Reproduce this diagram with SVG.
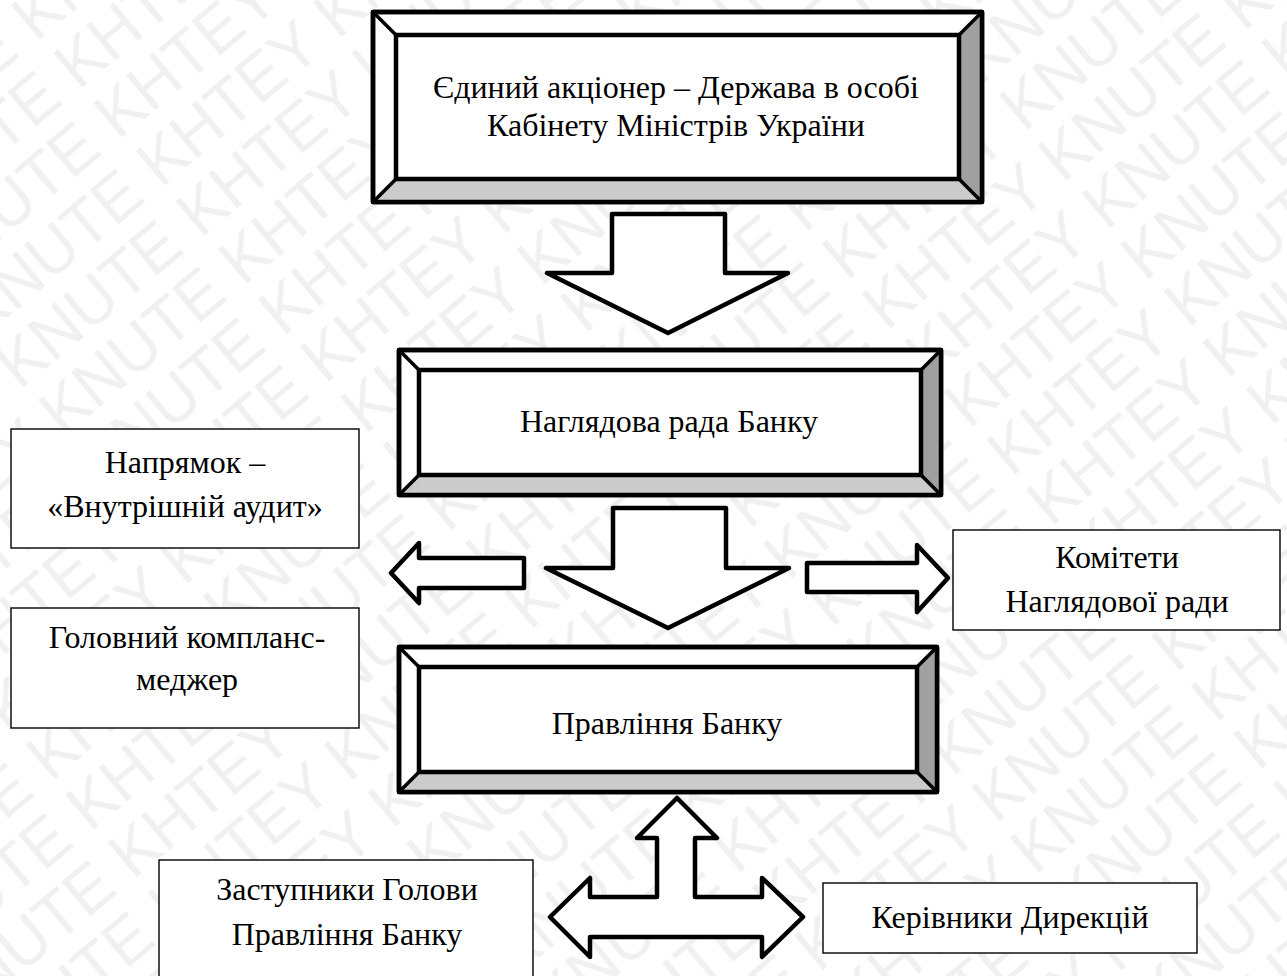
<svg xmlns="http://www.w3.org/2000/svg" width="1287" height="976" viewBox="0 0 1287 976">
<defs>
<style>
.t{font-family:"Liberation Serif","Times New Roman",serif;font-size:32px;fill:#000;text-anchor:middle}
.box{fill:#fff;stroke:#000;stroke-width:1.4}
.bo{fill:#fff;stroke:#000;stroke-width:4.5;stroke-linejoin:round}
.bf{fill:none;stroke:#000;stroke-width:4.5;stroke-linejoin:round}
.bi{fill:#fff;stroke:#000;stroke-width:4.5;stroke-linejoin:round}
.br{fill:#a0a0a0;stroke:none}
.bb{fill:#cbcbcb;stroke:none}
.dg{stroke:#000;stroke-width:3.5;fill:none}
.ar{fill:#fff;stroke:#000;stroke-width:4.5;stroke-linejoin:round}
.wm{font-family:"Liberation Sans",Arial,sans-serif;font-size:64px;fill:#f0f0f0}
</style>
<pattern id="wmp" patternUnits="userSpaceOnUse" width="466" height="128" patternTransform="rotate(-40)">
<text class="wm" x="0" y="56">KHTEY KNUTE </text>
<text class="wm" x="466" y="56">KHTEY KNUTE </text>
<text class="wm" x="-233" y="120">KNUTE KHTEY </text>
<text class="wm" x="233" y="120">KNUTE KHTEY </text>
</pattern>
</defs>
<rect width="1287" height="976" fill="#fff"/>
<rect width="1287" height="976" fill="url(#wmp)"/>

<g id="node-shareholder">
<rect class="bo" x="373" y="12" width="609" height="190"/>
<polygon class="bb" points="373,202 982,202 959,179 396,179"/>
<polygon class="br" points="982,12 982,202 959,179 959,35"/>
<rect class="bf" x="373" y="12" width="609" height="190"/>
<line class="dg" x1="373" y1="12" x2="396" y2="35"/>
<line class="dg" x1="982" y1="12" x2="959" y2="35"/>
<line class="dg" x1="373" y1="202" x2="396" y2="179"/>
<line class="dg" x1="982" y1="202" x2="959" y2="179"/>
<rect class="bi" x="396" y="35" width="563" height="144"/>
<text class="t" x="676" y="98">Єдиний акціонер – Держава в особі</text>
<text class="t" x="676" y="136">Кабінету Міністрів України</text>
</g>

<g id="node-supervisory">
<rect class="bo" x="399" y="350" width="542" height="145"/>
<polygon class="bb" points="399,495 941,495 921,475 419,475"/>
<polygon class="br" points="941,350 941,495 921,475 921,370"/>
<rect class="bf" x="399" y="350" width="542" height="145"/>
<line class="dg" x1="399" y1="350" x2="419" y2="370"/>
<line class="dg" x1="941" y1="350" x2="921" y2="370"/>
<line class="dg" x1="399" y1="495" x2="419" y2="475"/>
<line class="dg" x1="941" y1="495" x2="921" y2="475"/>
<rect class="bi" x="419" y="370" width="502" height="105"/>
<text class="t" x="669" y="432">Наглядова рада Банку</text>
</g>

<g id="node-board">
<rect class="bo" x="399" y="647" width="538" height="145"/>
<polygon class="bb" points="399,792 937,792 917,772 419,772"/>
<polygon class="br" points="937,647 937,792 917,772 917,667"/>
<rect class="bf" x="399" y="647" width="538" height="145"/>
<line class="dg" x1="399" y1="647" x2="419" y2="667"/>
<line class="dg" x1="937" y1="647" x2="917" y2="667"/>
<line class="dg" x1="399" y1="792" x2="419" y2="772"/>
<line class="dg" x1="937" y1="792" x2="917" y2="772"/>
<rect class="bi" x="419" y="667" width="498" height="105"/>
<text class="t" x="667" y="734">Правління Банку</text>
</g>

<g id="node-audit">
<rect class="box" x="11" y="429" width="348" height="119"/>
<text class="t" x="185" y="473">Напрямок –</text>
<text class="t" x="185" y="517">«Внутрішній аудит»</text>
</g>

<g id="node-compliance">
<rect class="box" x="11" y="608" width="348" height="120"/>
<text class="t" x="187" y="648">Головний компланс-</text>
<text class="t" x="187" y="690">меджер</text>
</g>

<g id="node-committees">
<rect class="box" x="953" y="530" width="327" height="100"/>
<text class="t" x="1117" y="568">Комітети</text>
<text class="t" x="1117" y="612">Наглядової ради</text>
</g>

<g id="node-deputies">
<rect class="box" x="159" y="860" width="374" height="130"/>
<text class="t" x="347" y="900">Заступники Голови</text>
<text class="t" x="347" y="945">Правління Банку</text>
</g>

<g id="node-directors">
<rect class="box" x="823" y="883" width="374" height="70"/>
<text class="t" x="1010" y="928">Керівники Дирекцій</text>
</g>

<g id="connectors">
<polygon class="ar" points="612,214 725,214 725,273 788,273 668,333 547,273 612,273"/>
<polygon class="ar" points="613,508 726,508 726,568 789,568 668,628 546,568 613,568"/>
<polygon class="ar" points="524,558 419,558 419,543 391,573 419,603 419,588 524,588"/>
<polygon class="ar" points="807,563 917,563 917,545 948,578 917,612 917,592 807,592"/>
<polygon class="ar" points="677,798 717,838 695,838 695,897 762,897 762,878 803,917 762,957 762,937 590,937 590,957 550,917 590,878 590,897 657,897 657,838 637,838"/>
</g>
</svg>
